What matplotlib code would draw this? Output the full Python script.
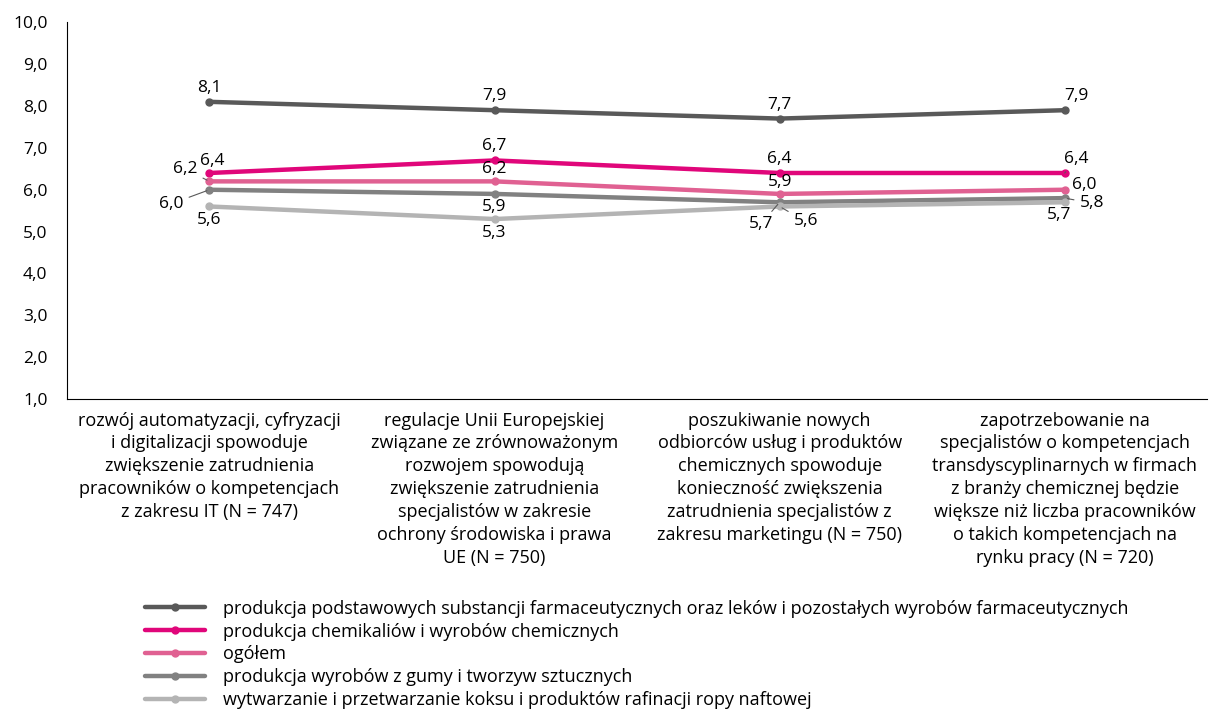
import matplotlib
matplotlib.use("Agg")
import matplotlib.pyplot as plt
from matplotlib.ticker import FuncFormatter, MultipleLocator

plt.rcParams['font.family'] = ['Open Sans', 'DejaVu Sans']

categories = [
    "rozwój automatyzacji, cyfryzacji\ni digitalizacji spowoduje\nzwiększenie zatrudnienia\npracowników o kompetencjach\nz zakresu IT (N = 747)",
    "regulacje Unii Europejskiej\nzwiązane ze zrównoważonym\nrozwojem spowodują\nzwiększenie zatrudnienia\nspecjalistów w zakresie\nochrony środowiska i prawa\nUE (N = 750)",
    "poszukiwanie nowych\nodbiorców usług i produktów\nchemicznych spowoduje\nkonieczność zwiększenia\nzatrudnienia specjalistów z\nzakresu marketingu (N = 750)",
    "zapotrzebowanie na\nspecjalistów o kompetencjach\ntransdyscyplinarnych w firmach\nz branży chemicznej będzie\nwiększe niż liczba pracowników\no takich kompetencjach na\nrynku pracy (N = 720)",
]

series_names = [
    "produkcja podstawowych substancji farmaceutycznych oraz leków i pozostałych wyrobów farmaceutycznych",
    "produkcja chemikaliów i wyrobów chemicznych",
    "ogółem",
    "produkcja wyrobów z gumy i tworzyw sztucznych",
    "wytwarzanie i przetwarzanie koksu i produktów rafinacji ropy naftowej",
]
farmacja = [8.1, 7.9, 7.7, 7.9]
chemikalia = [6.4, 6.7, 6.4, 6.4]
ogolem = [6.2, 6.2, 5.9, 6.0]
guma = [6.0, 5.9, 5.7, 5.8]
koks = [5.6, 5.3, 5.6, 5.7]

colors = ["#595959", "#E0067A", "#E06192", "#818181", "#B4B4B4"]

# label offsets in pixels (dx, dy) per series and category; leader line where True
offsets = [
    [(0, 14, False), (0, 14, False), (0, 14, False), (12, 14, False)],
    [(3, 12, False), (0, 14, False), (0, 14, False), (12, 14, True)],
    [(-24, 12, True), (0, 12, False), (0, 12, False), (20, 5, False)],
    [(-38, -14, True), (0, -13, False), (-19, -22, True), (27, -5, True)],
    [(0, -14, False), (0, -14, False), (26, -15, True), (-6, -13, False)],
]

FS = 12.5      # ticks and data labels
FS_TXT = 13    # category labels and legend

def fmt(v):
    return f"{v:.1f}".replace(".", ",")

fig = plt.figure(figsize=(12.17, 7.19), dpi=100)
ax = fig.add_axes([0.055, 0.445, 0.937, 0.524])

x = range(len(categories))
all_series = [farmacja, chemikalia, ogolem, guma, koks]
for name, vals, col, offs in zip(series_names, all_series, colors, offsets):
    ax.plot(x, vals, color=col, lw=3.2, marker='o', ms=5, label=name,
            solid_capstyle='round', zorder=3)
    for xi, v, (dx, dy, leader) in zip(x, vals, offs):
        arrow = dict(arrowstyle='-', color='#595959', lw=0.8, shrinkA=2, shrinkB=2) if leader else None
        ax.annotate(fmt(v), (xi, v), xytext=(dx, dy), textcoords='offset pixels',
                    ha='center', va='center', fontsize=FS, color='#000000',
                    arrowprops=arrow, zorder=4)

ax.set_xlim(-0.5, 3.5)
ax.set_ylim(1, 10)
ax.yaxis.set_major_locator(MultipleLocator(1))
ax.yaxis.set_major_formatter(FuncFormatter(lambda v, p: fmt(v)))
ax.set_xticks(list(x))
ax.set_xticklabels(categories, fontsize=FS_TXT, linespacing=1.35)
ax.tick_params(axis='both', length=0)
ax.tick_params(axis='y', labelsize=FS, pad=14)
ax.tick_params(axis='x', pad=9)
for s in ['top', 'right']:
    ax.spines[s].set_visible(False)
for s in ['left', 'bottom']:
    ax.spines[s].set_color('#000000')
    ax.spines[s].set_linewidth(0.8)

fig.legend(loc='upper left', bbox_to_anchor=(0.1195, 0.166), frameon=False,
           fontsize=FS_TXT, handlelength=3.3, handletextpad=1.0, labelspacing=0.27,
           borderpad=0, borderaxespad=0)

fig.savefig("out.png", dpi=100)
